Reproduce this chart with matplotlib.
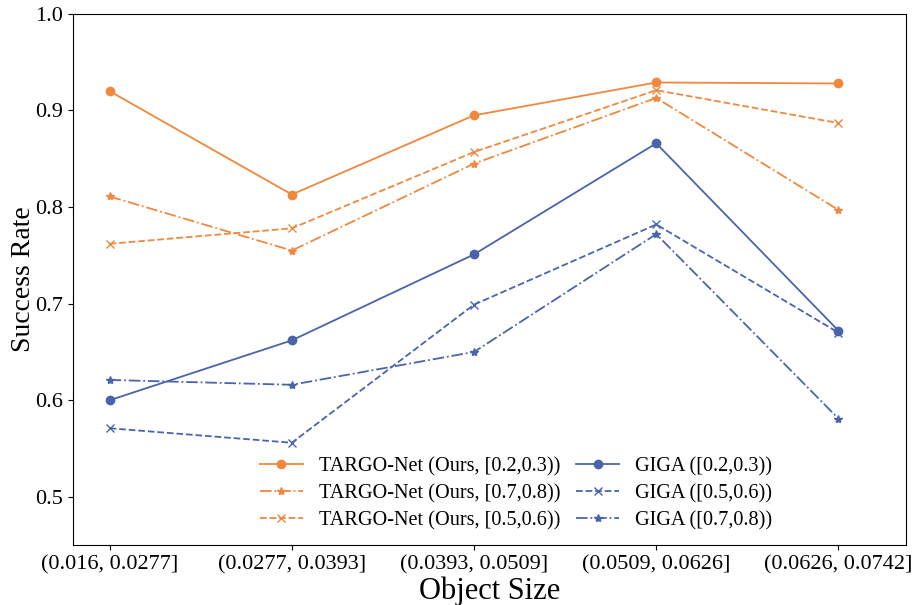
import matplotlib
matplotlib.use("Agg")
import matplotlib.pyplot as plt

plt.rcParams['font.family'] = ['Liberation Serif', 'DejaVu Serif']

sizes = ["(0.016, 0.0277]", "(0.0277, 0.0393]", "(0.0393, 0.0509]", "(0.0509, 0.0626]", "(0.0626, 0.0742]"]

targo_23 = [0.920, 0.813, 0.895, 0.929, 0.928]
targo_78 = [0.811, 0.755, 0.845, 0.913, 0.797]
targo_56 = [0.762, 0.778, 0.857, 0.921, 0.887]
giga_23 = [0.600, 0.662, 0.751, 0.866, 0.672]
giga_56 = [0.571, 0.556, 0.699, 0.782, 0.670]
giga_78 = [0.621, 0.616, 0.650, 0.772, 0.581]

orange = "#F0883E"
blue = "#4A64AC"

fig = plt.figure(figsize=(9.15, 6.05), dpi=100)
ax = fig.add_axes([0.080, 0.099, 0.910, 0.878])
x = list(range(len(sizes)))

ax.plot(x, targo_23, color=orange, linestyle='-', marker='o', markersize=6, linewidth=1.3, label="TARGO-Net (Ours, [0.2,0.3))")
ax.plot(x, targo_78, color=orange, linestyle='-.', marker='*', markersize=6, linewidth=1.3, label="TARGO-Net (Ours, [0.7,0.8))")
ax.plot(x, targo_56, color=orange, linestyle='--', marker='x', markersize=6, linewidth=1.3, label="TARGO-Net (Ours, [0.5,0.6))")
ax.plot(x, giga_23, color=blue, linestyle='-', marker='o', markersize=6, linewidth=1.3, label="GIGA ([0.2,0.3))")
ax.plot(x, giga_56, color=blue, linestyle='--', marker='x', markersize=6, linewidth=1.3, label="GIGA ([0.5,0.6))")
ax.plot(x, giga_78, color=blue, linestyle='-.', marker='*', markersize=6, linewidth=1.3, label="GIGA ([0.7,0.8))")

ax.set_xticks(x)
ax.set_xticklabels(sizes, fontsize=16)
ax.set_xlim(-0.2, 4.37)
ax.set_ylim(0.45, 1.0)
ax.set_yticks([0.5, 0.6, 0.7, 0.8, 0.9, 1.0])
ax.set_yticklabels(["0.5", "0.6", "0.7", "0.8", "0.9", "1.0"], fontsize=16)
ax.set_xlabel("Object Size", fontsize=22, labelpad=2)
ax.set_ylabel("Success Rate", fontsize=20, labelpad=0)

ax.legend(ncol=2, loc='lower center', bbox_to_anchor=(0.532, -0.006), frameon=False,
          fontsize=14.6, handlelength=2.1, columnspacing=0.8, labelspacing=0.37)

fig.savefig("out.png", dpi=100)
